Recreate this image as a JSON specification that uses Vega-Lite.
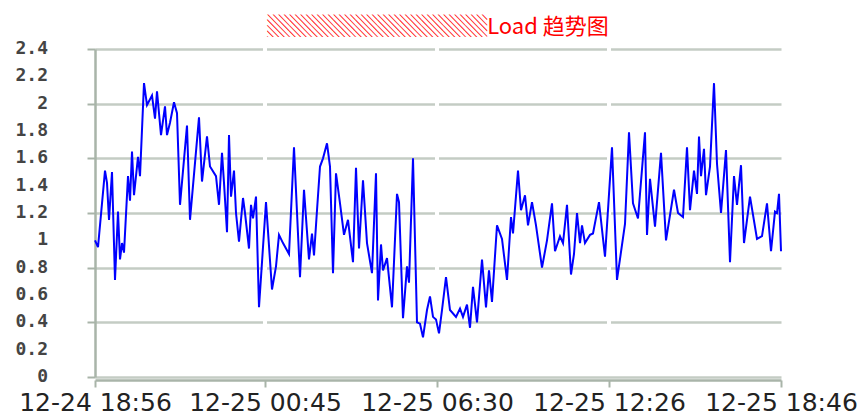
{
  "$schema": "https://vega.github.io/schema/vega-lite/v6.json",
  "width": 686,
  "height": 328,
  "autosize": "none",
  "padding": {"left": 95, "top": 49, "right": 82, "bottom": 41},
  "background": "white",
  "title": {
    "text": "▒▒▒▒▒▒▒▒▒▒Load 趋势图",
    "color": "#ff0000",
    "fontSize": 22,
    "font": "Noto Sans CJK SC",
    "fontWeight": "normal",
    "anchor": "middle",
    "offset": 1
  },
  "config": {
    "view": {"stroke": null},
    "axis": {"labelOverlap": false, "labelSeparation": 0, "labelBound": false}
  },
  "datasets": {
    "load": [
      {"n": 0, "v": 1.00}, {"n": 3, "v": 0.95}, {"n": 10, "v": 1.51}, {"n": 12, "v": 1.42}, {"n": 14, "v": 1.15},
      {"n": 17, "v": 1.50}, {"n": 20, "v": 0.71}, {"n": 23, "v": 1.21}, {"n": 25, "v": 0.86}, {"n": 27, "v": 0.98},
      {"n": 29, "v": 0.91}, {"n": 33, "v": 1.47}, {"n": 35, "v": 1.29}, {"n": 37, "v": 1.65}, {"n": 39, "v": 1.33},
      {"n": 43, "v": 1.61}, {"n": 45, "v": 1.47}, {"n": 49, "v": 2.15}, {"n": 52, "v": 1.99}, {"n": 57, "v": 2.06},
      {"n": 60, "v": 1.89}, {"n": 62, "v": 2.09}, {"n": 66, "v": 1.77}, {"n": 70, "v": 1.98}, {"n": 72, "v": 1.77},
      {"n": 75, "v": 1.86}, {"n": 79, "v": 2.01}, {"n": 82, "v": 1.93}, {"n": 85, "v": 1.26}, {"n": 92, "v": 1.84},
      {"n": 95, "v": 1.15}, {"n": 104, "v": 1.90}, {"n": 107, "v": 1.43}, {"n": 112, "v": 1.76}, {"n": 115, "v": 1.54},
      {"n": 121, "v": 1.47}, {"n": 124, "v": 1.26}, {"n": 127, "v": 1.64}, {"n": 129, "v": 1.42}, {"n": 132, "v": 1.06},
      {"n": 134, "v": 1.77}, {"n": 136, "v": 1.32}, {"n": 139, "v": 1.51}, {"n": 141, "v": 1.20}, {"n": 144, "v": 0.99},
      {"n": 148, "v": 1.31}, {"n": 150, "v": 1.20}, {"n": 154, "v": 0.94}, {"n": 156, "v": 1.26}, {"n": 158, "v": 1.16},
      {"n": 161, "v": 1.32}, {"n": 164, "v": 0.51}, {"n": 171, "v": 1.28}, {"n": 177, "v": 0.64}, {"n": 181, "v": 0.81},
      {"n": 184, "v": 1.04}, {"n": 188, "v": 0.98}, {"n": 194, "v": 0.90}, {"n": 199, "v": 1.68}, {"n": 205, "v": 0.73},
      {"n": 209, "v": 1.37}, {"n": 214, "v": 0.86}, {"n": 217, "v": 1.05}, {"n": 219, "v": 0.89}, {"n": 222, "v": 1.22},
      {"n": 225, "v": 1.54}, {"n": 228, "v": 1.60}, {"n": 232, "v": 1.71}, {"n": 235, "v": 1.54}, {"n": 238, "v": 0.76},
      {"n": 241, "v": 1.49}, {"n": 245, "v": 1.27}, {"n": 249, "v": 1.04}, {"n": 253, "v": 1.15}, {"n": 258, "v": 0.84},
      {"n": 261, "v": 1.53}, {"n": 264, "v": 0.94}, {"n": 268, "v": 1.44}, {"n": 272, "v": 0.98}, {"n": 277, "v": 0.76},
      {"n": 281, "v": 1.49}, {"n": 283, "v": 0.56}, {"n": 286, "v": 0.97}, {"n": 288, "v": 0.78}, {"n": 292, "v": 0.87},
      {"n": 297, "v": 0.51}, {"n": 302, "v": 1.34}, {"n": 304, "v": 1.28}, {"n": 308, "v": 0.43}, {"n": 312, "v": 0.81},
      {"n": 314, "v": 0.69}, {"n": 318, "v": 1.60}, {"n": 322, "v": 0.40}, {"n": 325, "v": 0.39}, {"n": 328, "v": 0.29},
      {"n": 332, "v": 0.49}, {"n": 335, "v": 0.59}, {"n": 338, "v": 0.44}, {"n": 341, "v": 0.42}, {"n": 344, "v": 0.32},
      {"n": 347, "v": 0.49}, {"n": 351, "v": 0.73}, {"n": 355, "v": 0.49}, {"n": 361, "v": 0.44}, {"n": 365, "v": 0.50},
      {"n": 368, "v": 0.44}, {"n": 372, "v": 0.53}, {"n": 375, "v": 0.36}, {"n": 378, "v": 0.66}, {"n": 382, "v": 0.40},
      {"n": 387, "v": 0.86}, {"n": 391, "v": 0.51}, {"n": 394, "v": 0.78}, {"n": 397, "v": 0.55}, {"n": 402, "v": 1.11},
      {"n": 407, "v": 1.01}, {"n": 412, "v": 0.71}, {"n": 416, "v": 1.17}, {"n": 418, "v": 1.05}, {"n": 423, "v": 1.51},
      {"n": 426, "v": 1.22}, {"n": 430, "v": 1.33}, {"n": 433, "v": 1.11}, {"n": 437, "v": 1.28}, {"n": 441, "v": 1.11},
      {"n": 447, "v": 0.80}, {"n": 452, "v": 1.00}, {"n": 457, "v": 1.27}, {"n": 460, "v": 0.92}, {"n": 465, "v": 1.03},
      {"n": 468, "v": 0.98}, {"n": 472, "v": 1.26}, {"n": 476, "v": 0.75}, {"n": 479, "v": 0.90}, {"n": 482, "v": 1.20},
      {"n": 485, "v": 0.98}, {"n": 487, "v": 1.11}, {"n": 490, "v": 0.98}, {"n": 495, "v": 1.04}, {"n": 498, "v": 1.05},
      {"n": 504, "v": 1.28}, {"n": 510, "v": 0.88}, {"n": 517, "v": 1.68}, {"n": 522, "v": 0.71}, {"n": 530, "v": 1.12},
      {"n": 534, "v": 1.79}, {"n": 538, "v": 1.27}, {"n": 543, "v": 1.16}, {"n": 550, "v": 1.79}, {"n": 552, "v": 1.04},
      {"n": 555, "v": 1.45}, {"n": 560, "v": 1.10}, {"n": 566, "v": 1.64}, {"n": 571, "v": 1.00}, {"n": 579, "v": 1.37},
      {"n": 583, "v": 1.20}, {"n": 588, "v": 1.17}, {"n": 592, "v": 1.68}, {"n": 595, "v": 1.22}, {"n": 599, "v": 1.51},
      {"n": 602, "v": 1.34}, {"n": 604, "v": 1.76}, {"n": 606, "v": 1.47}, {"n": 609, "v": 1.67}, {"n": 611, "v": 1.33},
      {"n": 615, "v": 1.54}, {"n": 619, "v": 2.15}, {"n": 622, "v": 1.56}, {"n": 626, "v": 1.20}, {"n": 631, "v": 1.66},
      {"n": 635, "v": 0.84}, {"n": 639, "v": 1.47}, {"n": 642, "v": 1.26}, {"n": 646, "v": 1.55}, {"n": 649, "v": 0.98},
      {"n": 655, "v": 1.32}, {"n": 662, "v": 1.01}, {"n": 667, "v": 1.03}, {"n": 672, "v": 1.27}, {"n": 676, "v": 0.92},
      {"n": 680, "v": 1.21}, {"n": 682, "v": 1.20}, {"n": 684, "v": 1.34}, {"n": 686, "v": 0.92}
    ],
    "gaps": [{"g": 170}, {"g": 342}, {"g": 514}],
    "yticks": [
      {"y": 0, "t": "0"}, {"y": 0.2, "t": "0.2"}, {"y": 0.4, "t": "0.4"}, {"y": 0.6, "t": "0.6"}, {"y": 0.8, "t": "0.8"},
      {"y": 1, "t": "1"}, {"y": 1.2, "t": "1.2"}, {"y": 1.4, "t": "1.4"}, {"y": 1.6, "t": "1.6"}, {"y": 1.8, "t": "1.8"},
      {"y": 2, "t": "2"}, {"y": 2.2, "t": "2.2"}, {"y": 2.4, "t": "2.4"}
    ]
  },
  "layer": [
    {
      "data": {"name": "gaps"},
      "mark": {"type": "rule", "color": "white", "strokeWidth": 4, "clip": false},
      "encoding": {
        "x": {"field": "g", "type": "quantitative"},
        "y": {"datum": 0.04},
        "y2": {"datum": 2.43}
      }
    },
    {
      "data": {"name": "load"},
      "mark": {"type": "line", "color": "#0000ff", "strokeWidth": 2},
      "encoding": {
        "x": {
          "field": "n",
          "type": "quantitative",
          "scale": {"domain": [0, 686], "nice": false, "zero": false},
          "axis": {
            "title": null,
            "grid": false,
            "values": [0, 170, 342, 514, 686],
            "labelExpr": "datum.value == 0 ? '12-24 18:56' : datum.value == 170 ? '12-25 00:45' : datum.value == 342 ? '12-25 06:30' : datum.value == 514 ? '12-25 12:26' : '12-25 18:46'",
            "labelFont": "DejaVu Sans",
            "labelFontSize": 25,
            "labelColor": "#222222",
            "labelPadding": 3,
            "labelOverlap": false,
            "labelFlush": false,
            "domainColor": "#a9b4a9",
            "domainWidth": 2.5,
            "tickColor": "#a9b4a9",
            "tickWidth": 2,
            "tickSize": 7,
            "offset": 3
          }
        },
        "y": {
          "field": "v",
          "type": "quantitative",
          "scale": {"domain": [0, 2.4], "nice": false},
          "axis": {
            "title": null,
            "values": [0, 0.2, 0.4, 0.6, 0.8, 1, 1.2, 1.4, 1.6, 1.8, 2, 2.2, 2.4],
            "labels": false,
            "grid": true,
            "gridColor": "#c4ccc4",
            "gridWidth": 2.5,
            "domainColor": "#a9b4a9",
            "domainWidth": 2.5,
            "tickColor": "#a9b4a9",
            "tickWidth": 2,
            "tickSize": 8
          }
        }
      }
    },
    {
      "data": {"name": "yticks"},
      "mark": {
        "type": "text",
        "align": "right",
        "baseline": "middle",
        "font": "DejaVu Sans Mono",
        "fontSize": 18,
        "fontWeight": "bold",
        "color": "#444444",
        "dx": -47,
        "clip": false
      },
      "encoding": {
        "x": {"datum": 0},
        "y": {"field": "y", "type": "quantitative"},
        "text": {"field": "t"}
      }
    }
  ]
}
